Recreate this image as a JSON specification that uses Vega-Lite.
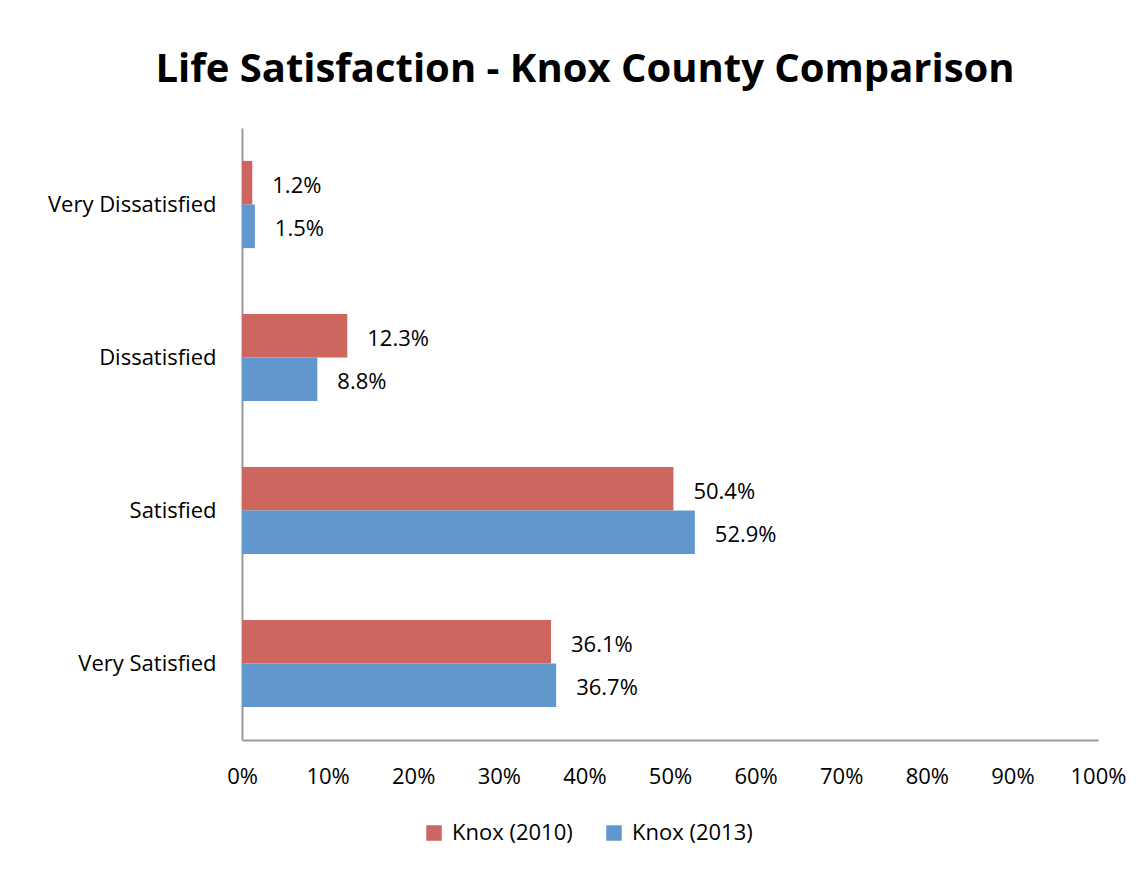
{
  "$schema": "https://vega.github.io/schema/vega-lite/v6.json",
  "autosize": {"type": "none"},
  "width": 856,
  "height": 612,
  "padding": {"left": 242, "top": 128, "right": 49, "bottom": 136},
  "background": "white",
  "title": {
    "text": "Life Satisfaction - Knox County Comparison",
    "font": "Open Sans",
    "fontSize": 40,
    "fontWeight": "bold",
    "color": "black",
    "anchor": "middle",
    "dx": -85,
    "offset": 38
  },
  "data": {
    "values": [
      {"category": "Very Dissatisfied", "series": "Knox (2010)", "value": 0.012},
      {"category": "Very Dissatisfied", "series": "Knox (2013)", "value": 0.015},
      {"category": "Dissatisfied", "series": "Knox (2010)", "value": 0.123},
      {"category": "Dissatisfied", "series": "Knox (2013)", "value": 0.088},
      {"category": "Satisfied", "series": "Knox (2010)", "value": 0.504},
      {"category": "Satisfied", "series": "Knox (2013)", "value": 0.529},
      {"category": "Very Satisfied", "series": "Knox (2010)", "value": 0.361},
      {"category": "Very Satisfied", "series": "Knox (2013)", "value": 0.367}
    ]
  },
  "encoding": {
    "y": {
      "field": "category",
      "type": "nominal",
      "sort": ["Very Dissatisfied", "Dissatisfied", "Satisfied", "Very Satisfied"],
      "scale": {"paddingInner": 0.43, "paddingOuter": 0.215},
      "axis": {
        "title": null,
        "ticks": false,
        "labelFont": "Open Sans",
        "labelFontSize": 22,
        "labelColor": "black",
        "labelPadding": 26,
        "domainColor": "#999999",
        "domainWidth": 2,
        "grid": false
      }
    },
    "yOffset": {"field": "series", "type": "nominal", "sort": ["Knox (2010)", "Knox (2013)"]},
    "x": {
      "field": "value",
      "type": "quantitative",
      "scale": {"domain": [0, 1], "nice": false},
      "axis": {
        "title": null,
        "format": ".0%",
        "values": [0, 0.1, 0.2, 0.3, 0.4, 0.5, 0.6, 0.7, 0.8, 0.9, 1],
        "ticks": false,
        "grid": false,
        "labelFlush": false,
        "labelFont": "Open Sans",
        "labelFontSize": 22,
        "labelColor": "black",
        "labelPadding": 26,
        "domainColor": "#999999",
        "domainWidth": 2
      }
    }
  },
  "layer": [
    {
      "mark": {"type": "bar"},
      "encoding": {
        "color": {
          "field": "series",
          "type": "nominal",
          "scale": {"domain": ["Knox (2010)", "Knox (2013)"], "range": ["#CD665F", "#6197CC"]},
          "legend": {
            "title": null,
            "orient": "none",
            "direction": "horizontal",
            "legendX": 181,
            "legendY": 694,
            "symbolType": "square",
            "symbolSize": 240,
            "symbolStrokeWidth": 0,
            "labelFont": "Open Sans",
            "labelFontSize": 22,
            "labelColor": "black",
            "labelOffset": 7,
            "columnPadding": 30
          }
        }
      }
    },
    {
      "mark": {"type": "text", "align": "left", "baseline": "middle", "dx": 20, "dy": 3, "font": "Open Sans", "fontSize": 22, "color": "black"},
      "encoding": {
        "text": {"field": "value", "type": "quantitative", "format": ".1%"}
      }
    }
  ],
  "config": {"view": {"stroke": null}}
}
